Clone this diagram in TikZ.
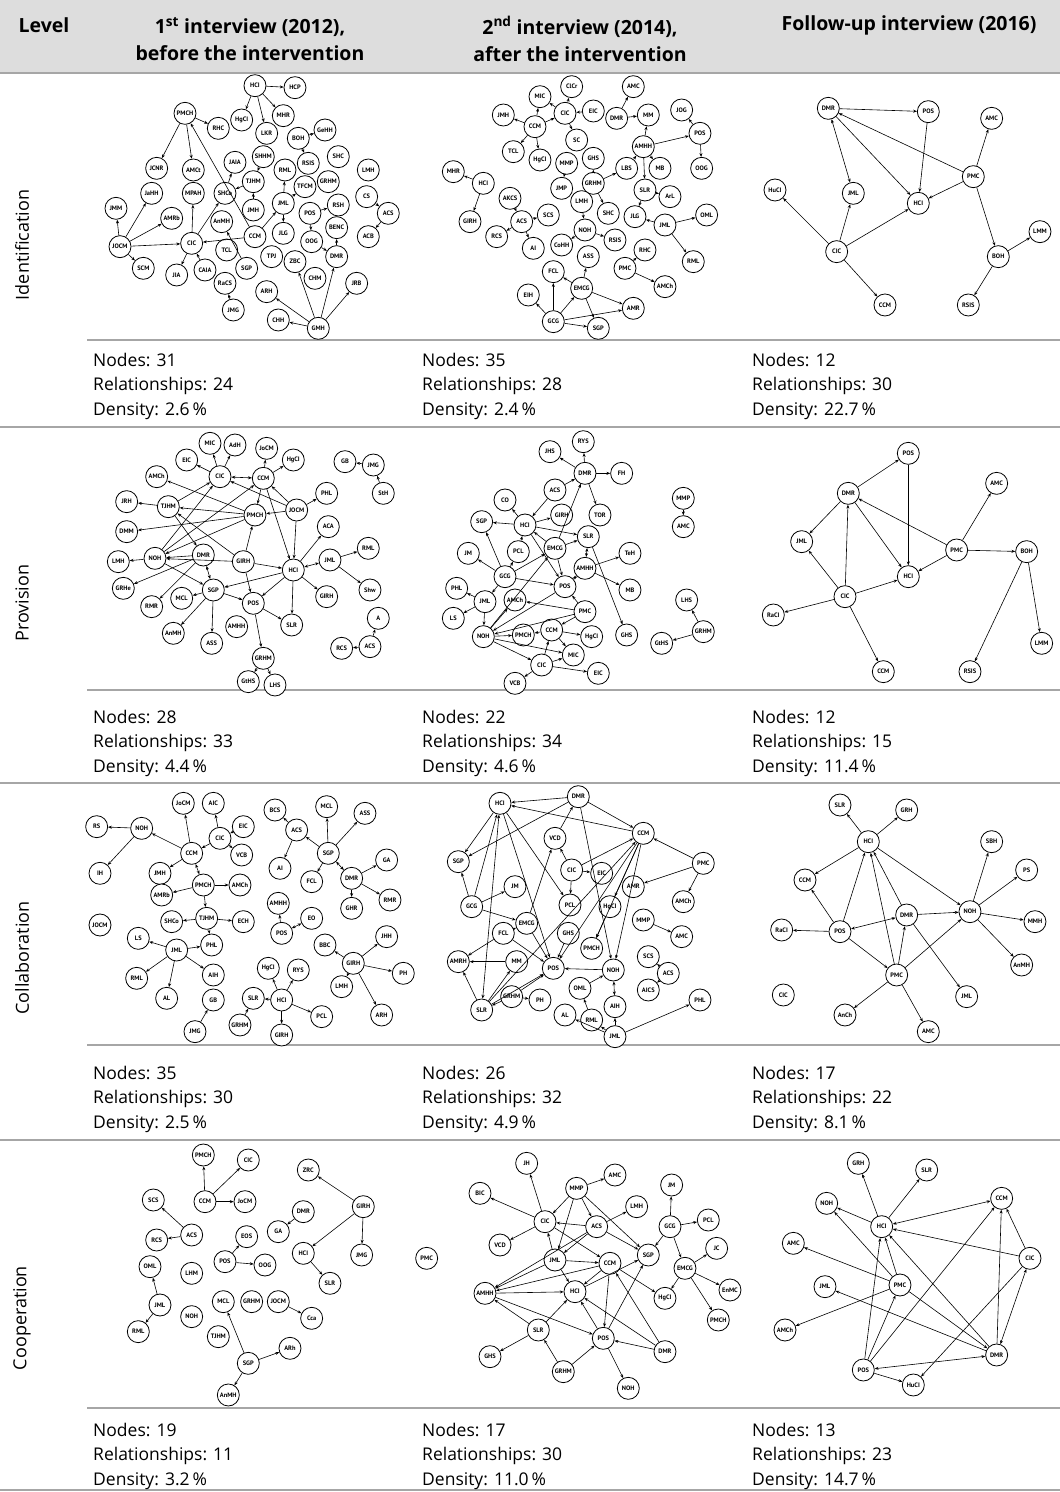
\documentclass[tikz,border=0pt]{standalone}
\usepackage{fontspec}
\setmainfont{Open Sans}
\newfontfamily\lblfam{PT Sans}
\usetikzlibrary{arrows.meta}
\newcommand\lblfont{\lblfam\fontsize{6.4}{7}\selectfont\bfseries}
\newcommand\statblk[6]{%
  \node[stat] (#1a) at (#2,#3) {Nodes: #4};
  \node[stat] (#1b) at (#2,#3+24.5) {Relationships: #5};
  \node[stat] (#1c) at (#2,#3+49) {Density: #6\,\%};}
\begin{document}
\begin{tikzpicture}[x=1pt,y=-1pt,
  nd/.style={circle,draw,line width=0.8pt,minimum size=22pt,inner sep=0pt,font=\lblfont,fill=white},
  ar/.style={-{Stealth[length=3.8pt,width=3pt]},line width=0.6pt},
  ab/.style={{Stealth[length=3.8pt,width=3pt]}-{Stealth[length=3.8pt,width=3pt]},line width=0.6pt},
  rule/.style={draw=gray!70,line width=1.3pt},
  stat/.style={anchor=base west,inner sep=0pt,font=\fontsize{17.5}{20}\selectfont},
  hdr/.style={font=\fontsize{19.5}{27}\selectfont\bfseries,align=center},
  lvl/.style={rotate=90,font=\fontsize{18}{20}\selectfont}]
\useasboundingbox (0,0) rectangle (1060,1492);
\fill[gray!27] (0,0) rectangle (1060,73);
\node[hdr] (hLevel) at (44,25) {Level};
\node[hdr] (hA) at (250,39) {1\textsuperscript{st} interview (2012),\\before the intervention};
\node[hdr] (hB) at (580,39) {2\textsuperscript{nd} interview (2014),\\after the intervention};
\node[hdr] (hC) at (909,25) {Follow-up interview (2016)};
% rules
\foreach \yy in {73,427,783,1140,1490} \draw[rule] (0,\yy) -- (1060,\yy);
\foreach \yy in {340,690,1045,1408} \draw[rule] (87,\yy) -- (1060,\yy);
% level labels
\node[lvl] (L1) at (22,245) {Identification};
\node[lvl] (L2) at (22,603) {Provision};
\node[lvl] (L3) at (22,958) {Collaboration};
\node[lvl] (L4) at (22,1318) {Cooperation};
% stats
\statblk{sa}{93}{366}{31}{24}{2.6}
\statblk{sb}{422}{366}{35}{28}{2.4}
\statblk{sc}{752}{366}{12}{30}{22.7}
\statblk{sd}{93}{723}{28}{33}{4.4}
\statblk{se}{422}{723}{22}{34}{4.6}
\statblk{sf}{752}{723}{12}{15}{11.4}
\statblk{sg}{93}{1079}{35}{30}{2.5}
\statblk{sh}{422}{1079}{26}{32}{4.9}
\statblk{si}{752}{1079}{17}{22}{8.1}
\statblk{sj}{93}{1436}{19}{11}{3.2}
\statblk{sk}{422}{1436}{17}{30}{11.0}
\statblk{sl}{752}{1436}{13}{23}{14.7}

% ---------- Panel a: Identification 2012
\begin{scope}[shift={(90pt,-75pt)},x=0.3333pt,y=-0.3333pt]
\foreach \n/\px/\py in {HCI/495/32, HCP/615/38, MHR/580/122, HgCI/455/135, LKR/530/175, PMCH/285/115, RHC/385/160, BOH/625/190, GeHH/705/165, RSIS/655/265, SHC/745/245, LMH/835/285, JCNR/200/280, AMCt/310/285, JAIA/435/262, SHHM/520/245, RML/585/285, GRHM/715/320, CS/830/365, ACS/895/415, ACB/835/485, JaHH/185/355, MPAH/310/355, SHCo/405/355, TJHM/490/320, TFCM/645/335, JMM/78/400, AMRb/245/430, AnMH/395/440, JMH/490/405, JML/580/385, POS/660/415, RSH/745/390, BENC/740/458, JOCM/90/515, CIC/305/505, CCM/495/485, JLG/580/475, OOG/665/500, TCL/410/525, SGP/470/580, TPJ/545/545, ZBC/615/560, DMR/740/545, CHM/675/610, SCM/160/580, JIA/260/600, CAIA/345/585, RaCS/405/625, JRB/800/625, ARH/530/650, JMG/430/705, CHH/565/735, GMH/685/760}
  \node[nd] (a\n) at (\px,\py) {\n};
\foreach \s/\t in {HCI/HCP, HCI/MHR, HCI/HgCI, HCI/LKR, PMCH/RHC, PMCH/JCNR, PMCH/AMCt, CCM/PMCH, BOH/GeHH, BOH/RSIS, SHCo/JAIA, TJHM/SHCo, SHHM/TJHM, JMH/TJHM, JML/RML, JML/TFCM, JML/JLG, CCM/JML, CCM/CIC, CIC/SHCo, CIC/MPAH, JOCM/JMM, JOCM/JaHH, JOCM/AMRb, JOCM/CIC, JOCM/SCM, CIC/JIA, CAIA/CIC, SGP/AnMH, JMG/RaCS, POS/RSH, POS/OOG, DMR/BENC, OOG/DMR, GMH/ZBC, GMH/DMR, GMH/JRB, GMH/ARH, GMH/CHH, CS/ACS, ACS/ACB}
  \draw[ar] (a\s) -- (a\t);
\end{scope}

% ---------- Panel b: Identification 2014
\begin{scope}[shift={(415pt,-75pt)},x=0.3333pt,y=-0.3333pt]
\foreach \n/\px/\py in {ClCr/470/35, AMC/655/35, MIC/375/65, CIC/450/115, EIC/535/108, JMH/265/120, CCM/360/155, DMR/605/130, MM/700/120, JOG/800/105, SC/485/195, POS/855/175, AMHH/685/215, TCL/295/230, HgCI/375/255, MMP/455/265, GHS/535/250, LBS/635/280, MB/735/280, OOG/860/280, MHR/115/290, HCI/205/325, GRHM/535/325, JMP/440/340, SLR/690/345, ArL/765/365, AKCS/285/370, LMH/500/380, SCS/400/420, SHC/580/415, JLG/660/425, JML/750/450, OML/875/420, GIRH/165/440, ACS/320/440, NOH/510/465, RCS/245/485, AI/355/520, CoHH/440/510, RSIS/600/495, RHC/690/525, ASS/520/545, PMC/630/580, RML/835/560, FCL/415/590, EMCG/500/640, AMCh/750/635, EIH/340/660, AMR/655/700, GCG/415/740, SGP/550/760}
  \node[nd] (b\n) at (\px,\py) {\n};
\foreach \s/\t in {CIC/ClCr, CCM/MIC, CIC/MIC, EIC/CIC, CCM/CIC, CCM/JMH, CCM/TCL, CCM/HgCI, CIC/SC, DMR/AMC, DMR/MM, AMHH/MM, AMHH/POS, POS/JOG, POS/OOG, AMHH/SLR, AMHH/MB, GRHM/LBS, LBS/AMHH, GRHM/GHS, MMP/JMP, GRHM/SHC, SLR/ArL, SLR/JLG, JML/JLG, JML/OML, JML/RML, HCI/MHR, HCI/GIRH, AKCS/ACS, ACS/SCS, ACS/RCS, ACS/AI, LMH/NOH, NOH/CoHH, NOH/RSIS, PMC/RHC, PMC/AMCh, EMCG/ASS, EMCG/FCL, EMCG/AMR, EMCG/SGP, GCG/EMCG, GCG/FCL, GCG/EIH, GCG/AMR, GCG/SGP}
  \draw[ar] (b\s) -- (b\t);
\end{scope}

% ---------- Panel c: Identification 2016
\begin{scope}[shift={(745pt,-75pt)},x=0.3333pt,y=-0.3333pt]
\foreach \n/\px/\py in {DMR/250/100, POS/550/110, AMC/740/130, PMC/685/305, HuCI/90/345, JML/325/355, HCI/520/385, CIC/275/530, BOH/760/545, LMM/885/470, CCM/420/690, RSIS/670/690}
  \node[nd] (c\n) at (\px,\py) {\n};
\foreach \s/\t in {DMR/POS, POS/HCI, DMR/HCI, PMC/DMR, PMC/AMC, PMC/HCI, PMC/BOH, BOH/LMM, BOH/RSIS, CIC/HuCI, CIC/JML, CIC/HCI, CIC/CCM}
  \draw[ar] (c\s) -- (c\t);
\draw[ab] (cDMR) -- (cJML);
\end{scope}

% ---------- Panel d: Provision 2012
\begin{scope}[shift={(90pt,-425pt)},x=0.3333pt,y=-0.3333pt]
\foreach \n/\px/\py in {MIC/360/55, AdH/435/60, JoCM/530/70, HgCI/610/105, GB/765/110, JMG/850/120, EIC/290/105, CIC/390/155, CCM/520/160, StH/880/205, AMCh/200/155, JRH/110/230, TJHM/235/245, JOCM/620/255, PHL/710/205, PMCH/495/270, DMM/110/320, ACA/715/305, RML/835/370, NOH/195/400, DMR/340/390, GIRH/460/410, HCI/610/435, JML/720/405, LMH/85/410, GRHe/100/490, SGP/370/495, MCL/275/520, RMR/185/545, POS/490/535, Shw/840/495, A/865/580, SLR/605/600, AnMH/250/625, ASS/365/655, AMHH/440/605, ACS/840/665, RCS/755/670, GRHM/520/700, GtHS/475/770, LHS/555/780}
  \node[nd] (d\n) at (\px,\py) {\n};
\node[nd] (dGIRHb) at (710,515) {GIRH};
\foreach \s/\t in {CIC/EIC, CIC/MIC, CIC/AdH, CCM/JoCM, CCM/HgCI, JOCM/PHL, JOCM/CCM, JOCM/CIC, JOCM/PMCH, JOCM/HCI, CCM/HCI, CCM/PMCH, PMCH/AMCh, TJHM/JRH, TJHM/CIC, PMCH/TJHM, PMCH/DMM, PMCH/NOH, NOH/CIC, NOH/CCM, TJHM/DMR, GIRH/TJHM, NOH/LMH, DMR/NOH, GIRH/NOH, DMR/GRHe, DMR/RMR, NOH/SGP, HCI/SGP, GIRH/HCI, GIRH/PMCH, GIRH/POS, SGP/POS, SGP/MCL, SGP/AnMH, SGP/ASS, HCI/POS, HCI/SLR, HCI/ACA, HCI/GIRHb, JML/RML, JML/Shw, POS/SLR, POS/GRHM, GRHM/GtHS, GRHM/LHS, JMG/GB, StH/JMG, ACS/A, ACS/RCS}
  \draw[ar] (d\s) -- (d\t);
\foreach \s/\t in {CIC/CCM, DMR/SGP, HCI/JML}
  \draw[ab] (d\s) -- (d\t);
\end{scope}

% ---------- Panel e: Provision 2014
\begin{scope}[shift={(415pt,-425pt)},x=0.3333pt,y=-0.3333pt]
\foreach \n/\px/\py in {RYS/505/50, JHS/405/80, DMR/510/145, FH/620/145, ACS/420/195, CO/270/225, TOR/555/270, GIRH/440/270, SGP/200/290, HCI/330/300, SLR/520/335, MMP/805/220, AMC/805/305, JM/160/385, PCL/310/380, EMCG/420/370, TeH/645/385, AMHH/510/430, GCG/270/455, POS/450/485, MB/645/495, PHL/125/490, JML/210/530, AMCh/300/525, PMC/510/560, LS/115/580, LHS/815/525, NOH/205/635, PMCH/325/630, CCM/410/615, HgCI/530/635, GHS/635/630, GtHS/740/655, GRHM/865/620, MIC/475/690, CIC/380/720, EIC/550/745, VCB/300/775}
  \node[nd] (e\n) at (\px,\py) {\n};
\foreach \s/\t in {DMR/RYS, DMR/JHS, DMR/FH, DMR/TOR, ACS/DMR, ACS/HCI, HCI/CO, HCI/SGP, HCI/GIRH, HCI/SLR, EMCG/SLR, EMCG/HCI, EMCG/DMR, PCL/HCI, GCG/PCL, GCG/JM, GCG/SGP, GCG/POS, GCG/EMCG, HCI/POS, EMCG/POS, AMHH/TeH, AMHH/MB, SLR/GHS, JML/PHL, JML/LS, JML/NOH, GCG/JML, NOH/EMCG, NOH/AMCh, PMC/AMCh, PMC/POS, PMC/CCM, PMC/NOH, CCM/PMCH, CCM/HgCI, CCM/MIC, CIC/CCM, CIC/MIC, CIC/EIC, CIC/VCB, NOH/PMCH, NOH/CIC, NOH/MIC, POS/NOH, MMP/AMC, GRHM/LHS, GRHM/GtHS}
  \draw[ar] (e\s) -- (e\t);
\foreach \s/\t in {SLR/AMHH, AMHH/POS}
  \draw[ab] (e\s) -- (e\t);
\end{scope}

% ---------- Panel f: Provision 2016
\begin{scope}[shift={(745pt,-425pt)},x=0.3333pt,y=-0.3333pt]
\foreach \n/\px/\py in {POS/490/85, AMC/755/175, DMR/310/205, JML/170/350, PMC/635/375, BOH/845/380, HCI/490/455, CIC/300/515, RaCI/85/570, LMM/890/655, RSIS/675/740, CCM/415/740}
  \node[nd] (f\n) at (\px,\py) {\n};
\foreach \s/\t in {DMR/POS, POS/HCI, DMR/JML, DMR/HCI, PMC/DMR, PMC/AMC, PMC/HCI, PMC/BOH, BOH/RSIS, BOH/LMM, CIC/JML, CIC/DMR, CIC/HCI, CIC/RaCI, CIC/CCM}
  \draw[ar] (f\s) -- (f\t);
\end{scope}

% ---------- Panel g: Collaboration 2012
\begin{scope}[shift={(75pt,-785pt)},x=0.3333pt,y=-0.3333pt]
\foreach \n/\px/\py in {JoCM/325/55, AIC/415/55, BCS/600/75, MCL/755/65, ASS/870/85, RS/65/125, NOH/200/130, EIC/505/125, CIC/435/160, ACS/665/135, CCM/350/205, VCB/500/210, SGP/760/205, GA/935/225, IH/75/265, JMH/255/265, AI/615/250, FCL/710/290, DMR/830/280, PMCH/385/300, AMCh/495/300, AMRb/260/330, GHR/830/370, RMR/945/345, AMHH/610/355, JOCM/75/420, SHCo/290/410, TJHM/395/400, ECH/505/410, EO/710/400, LS/190/460, PHL/410/480, POS/620/445, BBC/750/480, JHH/935/455, JML/305/495, GIRH/835/535, PH/985/565, RML/185/580, AIH/415/570, HgCI/580/550, RYS/670/555, SLR/535/640, HCI/620/645, LMH/800/605, AL/275/640, GB/415/645, ARH/920/690, PCL/740/695, GRHM/495/720, JMG/360/740}
  \node[nd] (g\n) at (\px,\py) {\n};
\node[nd] (gGIRHb) at (620,750) {GIRH};
\foreach \s/\t in {NOH/RS, NOH/IH, CCM/NOH, CCM/JoCM, CIC/AIC, EIC/CIC, CIC/VCB, CIC/CCM, CCM/JMH, PMCH/AMCh, PMCH/AMRb, PMCH/TJHM, TJHM/SHCo, TJHM/ECH, TJHM/PHL, JML/PHL, JML/LS, JML/RML, JML/AL, JML/AIH, JMG/GB, SGP/ACS, ACS/BCS, ACS/AI, SGP/MCL, SGP/ASS, SGP/FCL, DMR/GA, DMR/RMR, DMR/GHR, POS/AMHH, GIRH/BBC, GIRH/JHH, GIRH/PH, GIRH/LMH, GIRH/ARH, HCI/HgCI, HCI/RYS, HCI/SLR, HCI/PCL, HCI/GIRHb, GRHM/SLR}
  \draw[ar] (g\s) -- (g\t);
\foreach \s/\t in {CCM/PMCH, SGP/DMR, POS/EO}
  \draw[ab] (g\s) -- (g\t);
\end{scope}

% ---------- Panel h: Collaboration 2014
\begin{scope}[shift={(415pt,-780pt)},x=0.3333pt,y=-0.3333pt]
\foreach \n/\px/\py in {HCI/255/70, DMR/490/50, CCM/685/160, VCD/420/175, SGP/130/245, CIC/470/270, EIC/560/280, PMC/865/250, JM/300/320, AMR/655/320, AMCh/805/365, GCG/170/380, PCL/465/375, HgCI/585/380, MMP/685/420, EMCG/335/430, FCL/265/460, GHS/460/460, AMC/800/470, PMCH/530/505, SCS/700/530, AMRH/130/545, MM/305/545, POS/415/565, NOH/595/570, ACS/760/580, AICS/700/630, OML/495/625, GRHM/290/650, PH/375/660, SLR/200/690, AIH/600/680, PHL/855/660, AL/450/705, RML/530/720, JML/600/770}
  \node[nd] (h\n) at (\px,\py) {\n};
\foreach \s/\t in {DMR/HCI, CCM/HCI, DMR/CCM, DMR/SGP, HCI/SGP, HCI/PCL, HCI/POS, GCG/HCI, GCG/SGP, GCG/JM, GCG/EMCG, FCL/EMCG, FCL/AMRH, FCL/POS, SLR/AMRH, MM/AMRH, SLR/MM, SLR/POS, SLR/CCM, GRHM/SLR, GRHM/PH, GRHM/POS, EMCG/VCD, VCD/DMR, DMR/NOH, CIC/VCD, CIC/EIC, CIC/CCM, CIC/PCL, CCM/HgCI, CCM/PMCH, CCM/POS, CCM/NOH, PMC/CCM, PMC/AMR, PMC/AMCh, HgCI/PMCH, NOH/POS, OML/NOH, RML/OML, JML/AL, JML/RML, JML/PHL, JML/AIH, MMP/AMC, ACS/SCS, ACS/AICS, EMCG/POS, GHS/POS}
  \draw[ar] (h\s) -- (h\t);
\foreach \s/\t in {NOH/AIH, HCI/SLR}
  \draw[ab] (h\s) -- (h\t);
\end{scope}

% ---------- Panel i: Collaboration 2016
\begin{scope}[shift={(745pt,-785pt)},x=0.3333pt,y=-0.3333pt]
\foreach \n/\px/\py in {SLR/285/60, GRH/485/75, HCI/370/170, SBH/740/170, PS/845/255, CCM/180/285, NOH/675/380, DMR/485/390, MMH/870/410, RaCI/110/435, POS/285/440, AnMH/830/540, PMC/455/570, CIC/115/630, JML/665/635, AnCh/300/690, AMC/550/740}
  \node[nd] (i\n) at (\px,\py) {\n};
\foreach \s/\t in {HCI/SLR, HCI/GRH, HCI/CCM, HCI/NOH, POS/CCM, POS/HCI, POS/RaCI, POS/PMC, DMR/HCI, DMR/NOH, DMR/JML, PMC/HCI, PMC/DMR, PMC/NOH, PMC/AnCh, PMC/AMC, NOH/SBH, NOH/PS, NOH/MMH, NOH/AnMH}
  \draw[ar] (i\s) -- (i\t);
\draw[ab] (iPOS) -- (iDMR);
\end{scope}

% ---------- Panel j: Cooperation 2012
\begin{scope}[shift={(90pt,-1140pt)},x=0.3333pt,y=-0.3333pt]
\foreach \n/\px/\py in {PMCH/340/45, CIC/475/60, ZRC/655/90, SCS/190/180, CCM/345/185, JoCM/465/185, GIRH/820/200, DMR/640/215, ACS/305/285, EOS/470/290, GA/565/275, RCS/200/300, HCI/640/340, JMG/815/345, OML/180/380, POS/405/365, OOG/525/375, LHM/305/400, SLR/720/430, JML/210/495, GRHM/485/485, JOCM/565/485, NOH/305/530, MCL/400/485, Cca/665/535, TJHM/385/590, RML/145/575, SGP/475/670, ARh/600/625, AnMH/415/765}
  \node[nd] (j\n) at (\px,\py) {\n};
\foreach \s/\t in {CCM/PMCH, CCM/CIC, CCM/JoCM, GIRH/ZRC, GIRH/HCI, GIRH/JMG, HCI/SLR, DMR/GA, ACS/SCS, ACS/RCS, POS/EOS, POS/OOG, JML/OML, JML/RML, JOCM/Cca, SGP/MCL, SGP/ARh, SGP/AnMH}
  \draw[ar] (j\s) -- (j\t);
\end{scope}

% ---------- Panel k: Cooperation 2014
\begin{scope}[shift={(415pt,-1140pt)},x=0.3333pt,y=-0.3333pt]
\foreach \n/\px/\py in {JH/335/70, AMC/600/105, BIC/195/160, MMP/485/145, LMH/665/200, JM/770/135, CIC/390/245, ACS/545/260, GCG/765/260, PCL/880/240, VCD/255/315, SGP/700/345, JC/905/325, PMC/35/355, JML/420/360, CCM/585/370, EMCG/810/385, AMHH/210/460, HCI/480/455, EnMC/945/450, HgCI/750/475, PMCH/910/540, SLR/370/570, POS/565/595, DMR/750/635, GHS/225/650, GRHM/445/695, NOH/640/745}
  \node[nd] (k\n) at (\px,\py) {\n};
\foreach \s/\t in {CIC/JH, CIC/BIC, CIC/VCD, MMP/AMC, MMP/CIC, MMP/ACS, MMP/SGP, MMP/JML, ACS/LMH, ACS/CIC, ACS/SGP, ACS/JML, ACS/AMHH, JML/CIC, JML/CCM, JML/HCI, JML/AMHH, CIC/CCM, CCM/AMHH, CCM/HCI, CCM/HgCI, CCM/POS, HCI/SGP, AMHH/HCI, AMHH/POS, SLR/AMHH, SLR/GHS, SLR/HCI, GRHM/SLR, GRHM/POS, POS/HCI, POS/NOH, DMR/POS, DMR/HCI, DMR/CCM, GCG/JM, GCG/PCL, GCG/SGP, GCG/EMCG, EMCG/JC, EMCG/EnMC, EMCG/PMCH, EMCG/HgCI, POS/SGP}
  \draw[ar] (k\s) -- (k\t);
\end{scope}

% ---------- Panel l: Cooperation 2016
\begin{scope}[shift={(745pt,-1140pt)},x=0.3333pt,y=-0.3333pt]
\foreach \n/\px/\py in {GRH/340/70, SLR/545/90, NOH/245/190, CCM/770/175, HCI/410/260, AMC/145/310, CIC/855/355, JML/240/440, PMC/465/435, AMCh/120/570, DMR/755/645, POS/355/690, HuCI/505/735}
  \node[nd] (l\n) at (\px,\py) {\n};
\foreach \s/\t in {HCI/GRH, HCI/SLR, HCI/NOH, CIC/HCI, CIC/CCM, CIC/HuCI, PMC/NOH, PMC/AMC, PMC/AMCh, PMC/HCI, PMC/DMR, DMR/JML, DMR/HCI, DMR/CCM, POS/HCI, POS/PMC, POS/CCM, POS/HuCI}
  \draw[ar] (l\s) -- (l\t);
\foreach \s/\t in {HCI/CCM, CIC/DMR, POS/DMR}
  \draw[ab] (l\s) -- (l\t);
\end{scope}
\end{tikzpicture}
\end{document}
